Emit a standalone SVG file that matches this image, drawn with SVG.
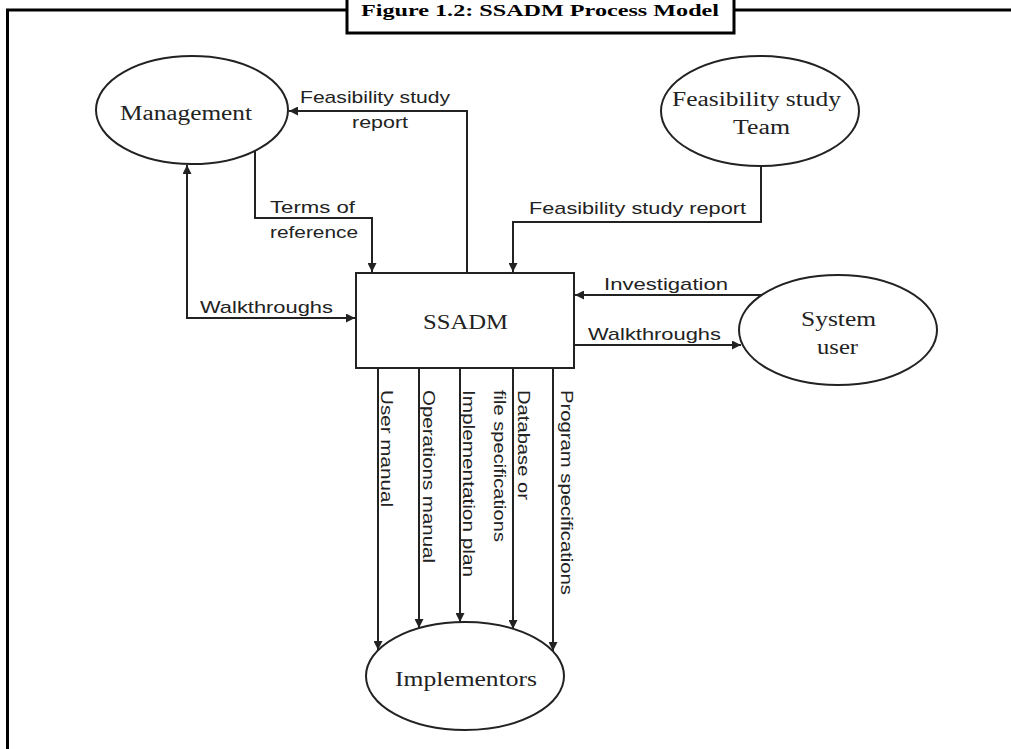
<svg xmlns="http://www.w3.org/2000/svg" width="1011" height="749" viewBox="0 0 1011 749">
<style>
.bg{fill:#fff}
.frame{fill:none;stroke:#000;stroke-width:3}
.node{fill:#fff;stroke:#222;stroke-width:2}
.serif{font-family:"Liberation Serif","Times New Roman",serif;font-size:20px;fill:#222}
.sans{font-family:"Liberation Sans",Arial,sans-serif;font-size:17px;fill:#222}
.title{font-family:"Liberation Serif","Times New Roman",serif;font-size:17px;font-weight:bold;fill:#000}
.conn{fill:none;stroke:#222;stroke-width:2}
</style>
<defs>
<marker id="arr" viewBox="0 0 10 10" refX="10" refY="5" markerWidth="9" markerHeight="9" markerUnits="userSpaceOnUse" orient="auto-start-reverse">
<path d="M0,0 L10,5 L0,10 z" fill="#222"/>
</marker>
</defs>
<rect class="bg" x="0" y="0" width="1011" height="749"/>
<g id="frame">
<path class="frame" d="M7.5,749 V10 H1011"/>
<rect x="347" y="-3" width="387" height="36" fill="#fff" stroke="#000" stroke-width="3"/>
<text class="title" x="361" y="16" textLength="358" lengthAdjust="spacingAndGlyphs">Figure 1.2: SSADM Process Model</text>
</g>
<g id="connectors">
<path class="conn" d="M467,272 V111 H289" marker-end="url(#arr)"/>
<text class="sans" x="300" y="103" textLength="150" lengthAdjust="spacingAndGlyphs">Feasibility study</text>
<text class="sans" x="352" y="128" textLength="56" lengthAdjust="spacingAndGlyphs">report</text>
<path class="conn" d="M255,151 V218 H372 V272" marker-end="url(#arr)"/>
<text class="sans" x="270" y="213" textLength="85" lengthAdjust="spacingAndGlyphs">Terms of</text>
<text class="sans" x="270" y="238" textLength="88" lengthAdjust="spacingAndGlyphs">reference</text>
<path class="conn" d="M355,318 H187 V165" marker-start="url(#arr)" marker-end="url(#arr)"/>
<text class="sans" x="200" y="313" textLength="133" lengthAdjust="spacingAndGlyphs">Walkthroughs</text>
<path class="conn" d="M761,166 V222 H513 V272" marker-end="url(#arr)"/>
<text class="sans" x="529" y="214" textLength="217" lengthAdjust="spacingAndGlyphs">Feasibility study report</text>
<path class="conn" d="M762,295 H575" marker-end="url(#arr)"/>
<text class="sans" x="604" y="290" textLength="124" lengthAdjust="spacingAndGlyphs">Investigation</text>
<path class="conn" d="M574,345 H741" marker-end="url(#arr)"/>
<text class="sans" x="588" y="340" textLength="133" lengthAdjust="spacingAndGlyphs">Walkthroughs</text>
<path class="conn" d="M378,368 V650" marker-end="url(#arr)"/>
<path class="conn" d="M419,368 V628" marker-end="url(#arr)"/>
<path class="conn" d="M460,368 V622" marker-end="url(#arr)"/>
<path class="conn" d="M513,368 V629" marker-end="url(#arr)"/>
<path class="conn" d="M553,368 V651" marker-end="url(#arr)"/>
<text class="sans" x="381" y="390" transform="rotate(90 381 390)" textLength="117" lengthAdjust="spacingAndGlyphs">User manual</text>
<text class="sans" x="423" y="390" transform="rotate(90 423 390)" textLength="173" lengthAdjust="spacingAndGlyphs">Operations manual</text>
<text class="sans" x="463" y="390" transform="rotate(90 463 390)" textLength="187" lengthAdjust="spacingAndGlyphs">Implementation plan</text>
<text class="sans" x="494" y="390" transform="rotate(90 494 390)" textLength="152" lengthAdjust="spacingAndGlyphs">file specifications</text>
<text class="sans" x="518" y="390" transform="rotate(90 518 390)" textLength="110" lengthAdjust="spacingAndGlyphs">Database or</text>
<text class="sans" x="561" y="390" transform="rotate(90 561 390)" textLength="205" lengthAdjust="spacingAndGlyphs">Program specifications</text>
</g>
<g id="management">
<ellipse class="node" cx="192" cy="110" rx="96" ry="54"/>
<text class="serif" x="120" y="120" textLength="132" lengthAdjust="spacingAndGlyphs">Management</text>
</g>
<g id="feasibility-team">
<ellipse class="node" cx="760" cy="111" rx="99" ry="55"/>
<text class="serif" x="672" y="106" textLength="169" lengthAdjust="spacingAndGlyphs">Feasibility study</text>
<text class="serif" x="733" y="134" textLength="57" lengthAdjust="spacingAndGlyphs">Team</text>
</g>
<g id="ssadm">
<rect class="node" x="356" y="273" width="218" height="95"/>
<text class="serif" x="423" y="329" textLength="85" lengthAdjust="spacingAndGlyphs">SSADM</text>
</g>
<g id="system-user">
<ellipse class="node" cx="838" cy="330" rx="99" ry="55"/>
<text class="serif" x="801" y="326" textLength="75" lengthAdjust="spacingAndGlyphs">System</text>
<text class="serif" x="817" y="354" textLength="41" lengthAdjust="spacingAndGlyphs">user</text>
</g>
<g id="implementors">
<ellipse class="node" cx="465" cy="676" rx="99" ry="54"/>
<text class="serif" x="395" y="686" textLength="142" lengthAdjust="spacingAndGlyphs">Implementors</text>
</g>
</svg>
